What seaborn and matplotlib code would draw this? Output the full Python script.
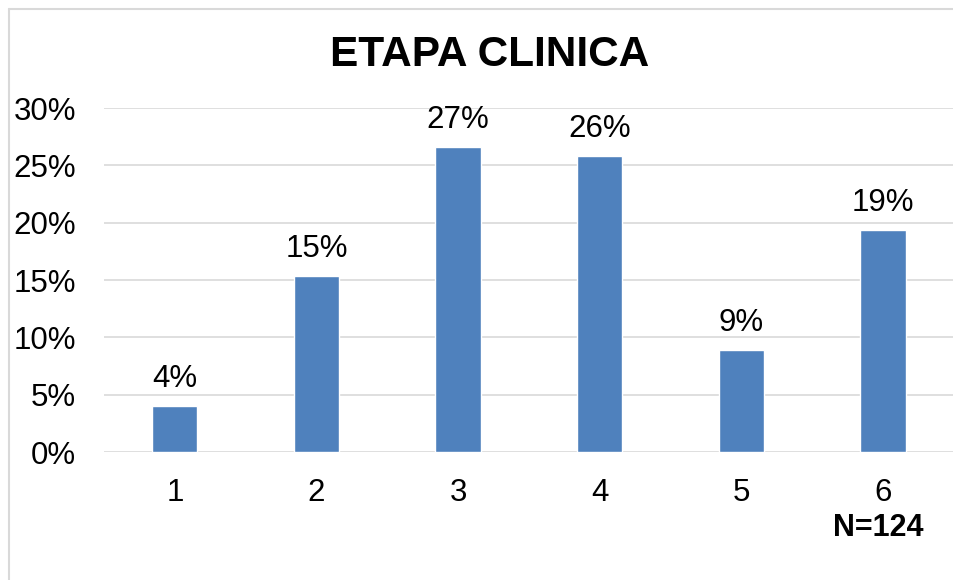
import matplotlib
matplotlib.use("Agg")
import matplotlib.pyplot as plt
import seaborn as sns
import pandas as pd
from matplotlib.lines import Line2D
from matplotlib.ticker import FuncFormatter

sns.set_theme(style="white")
plt.rcParams['font.family'] = ['Liberation Sans', 'DejaVu Sans']

categories = ["1", "2", "3", "4", "5", "6"]
values = [0.0403, 0.1532, 0.2661, 0.2581, 0.0887, 0.1935]
labels = ["4%", "15%", "27%", "26%", "9%", "19%"]
yticks = [0, 0.05, 0.10, 0.15, 0.20, 0.25, 0.30]
title = "ETAPA CLINICA"
note = "N=124"

df = pd.DataFrame({"etapa": categories, "pct": values})

fig = plt.figure(figsize=(9.54, 5.8), dpi=100)
ax = fig.add_axes([104/954, 1-452/580, 1-104/954, (452-108)/580])

sns.barplot(data=df, x="etapa", y="pct", color="#4F81BD", width=0.32,
            saturation=1, ax=ax, zorder=3)

ax.set_ylim(0, 0.30)
ax.set_yticks(yticks)
ax.yaxis.set_major_formatter(FuncFormatter(lambda v, p: f"{v*100:.0f}%"))
ax.grid(axis="y", color="#D9D9D9", linewidth=1.2, zorder=0)
ax.grid(axis="x", visible=False)
for s in ax.spines.values():
    s.set_visible(False)
ax.set_xlabel("")
ax.set_ylabel("")
ax.tick_params(axis="y", labelsize=22.5, pad=20, length=0, colors="black")
ax.tick_params(axis="x", labelsize=22.5, pad=19, length=0, colors="black")

for i, (v, lab) in enumerate(zip(values, labels)):
    ax.annotate(lab, (i, v), xytext=(0, 12), textcoords="offset pixels",
                ha="center", va="bottom", fontsize=22.5, color="black")

fig.text(490/954, 1-55/580, title, ha="center", va="center",
         fontsize=30.5, fontweight="bold", color="black")
fig.text(878/954, 1-528/580, note, ha="center", va="center",
         fontsize=22, fontweight="bold", color="black")

fig.add_artist(Line2D([9/954, 9/954], [0, 1-9/580], transform=fig.transFigure,
                      color="#D9D9D9", linewidth=1.5))
fig.add_artist(Line2D([9/954, 1], [1-9/580, 1-9/580], transform=fig.transFigure,
                      color="#D9D9D9", linewidth=1.5))

fig.savefig("out.png", dpi=100, facecolor="white")
